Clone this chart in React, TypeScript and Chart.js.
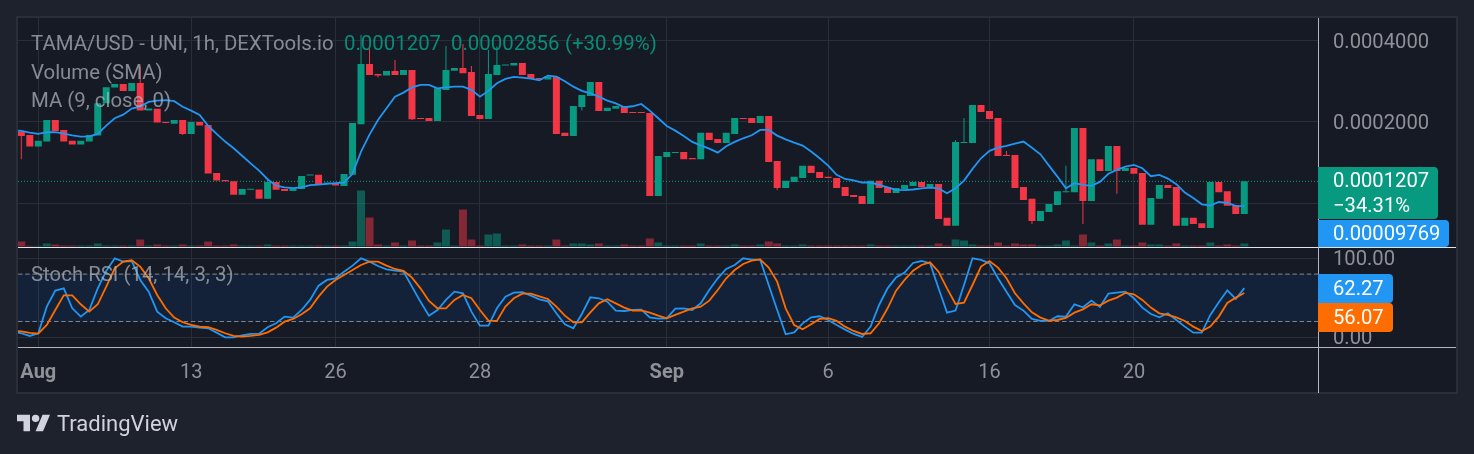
import React, { useEffect, useRef } from "react";
import { Chart, registerables } from "chart.js";

Chart.register(...registerables);

// Prices are in units of 0.0001 USD.
const opens = [
  1.843,1.791,1.622,1.693,2.034,1.869,1.703,1.650,1.693,1.781,
  2.344,2.679,2.765,2.605,2.789,2.203,2.236,2.000,1.972,2.034,
  1.807,2.000,1.950,1.297,1.222,1.208,1.078,1.123,1.126,1.040,
  1.201,1.130,1.113,1.130,1.268,1.276,1.184,1.191,1.161,1.276,
  1.962,3.277,3.011,2.968,3.087,2.985,3.112,2.064,2.070,2.016,
  2.627,3.094,3.165,3.060,2.124,2.052,2.985,3.231,3.231,3.304,
  3.011,2.908,2.868,2.934,1.823,1.775,2.274,2.494,2.812,2.197,
  2.236,2.293,2.178,2.178,2.160,1.065,1.484,1.536,1.550,1.473,
  1.456,1.823,1.729,1.674,1.807,2.070,2.070,1.983,2.106,1.436,
  1.140,1.201,1.243,1.377,1.307,1.254,1.243,1.151,1.075,1.065,
  0.995,1.212,1.151,1.094,1.130,1.161,1.201,1.151,1.181,0.885,
  0.828,1.674,1.674,2.312,2.197,2.070,1.510,1.510,1.151,1.040,
  0.861,0.930,0.987,1.100,1.100,1.900,1.022,1.456,1.319,1.632,
  1.319,1.353,1.297,0.834,1.040,1.171,1.151,0.828,0.885,0.846,
  0.812,1.201,1.110,0.987,0.915,
];
const closes = [
  1.775,1.622,1.703,2.034,1.853,1.693,1.650,1.703,1.791,2.344,
  2.686,2.765,2.605,2.789,2.203,2.242,1.989,1.983,2.034,1.807,
  2.000,1.939,1.290,1.215,1.208,1.078,1.130,1.130,1.040,1.201,
  1.123,1.113,1.138,1.264,1.276,1.181,1.191,1.164,1.286,1.983,
  3.277,2.985,2.968,3.087,2.985,3.112,2.046,2.052,2.016,2.664,
  3.112,3.165,3.027,2.106,2.052,3.011,3.249,3.249,3.304,2.985,
  2.884,2.868,2.942,1.807,1.775,2.293,2.516,2.812,2.197,2.255,
  2.293,2.160,2.160,2.160,1.065,1.498,1.550,1.550,1.456,1.456,
  1.823,1.717,1.674,1.823,2.070,2.052,1.983,2.106,1.423,1.140,
  1.212,1.254,1.377,1.297,1.243,1.243,1.140,1.065,1.056,0.995,
  1.212,1.140,1.094,1.140,1.171,1.201,1.151,1.181,0.877,0.828,
  1.688,1.688,2.312,2.178,2.052,1.498,1.498,1.140,1.030,0.861,
  0.938,0.995,1.110,1.110,1.900,1.022,1.456,1.319,1.632,1.319,
  1.353,1.287,0.834,1.048,1.171,1.140,0.828,0.885,0.839,0.812,
  1.201,1.100,0.980,0.915,1.207,
];
// Candles with a visible wick: the index and the price the wick reaches.
const wickIndex = [0,14,19,29,40,41,42,44,46,50,52,53,55,56,66,89,110,111,116,119,123,125,129];
const wickEnd = [1.456,3.204,1.791,1.229,4.2,3.744,2.917,3.39,2.034,3.82,3.885,3.222,3.69,3.797,2.203,1.120,1.717,2.070,1.564,0.839,1.377,0.839,1.085];

const volumes = [
  5,0.7,0.7,3,2,1,1,1,1,3,1,1,1,1,7,1,2,1,1,2,
  1,1,5,1,1,2,1,1,1,2,1,1,1,1,1,1,1,1,1,5,
  56,29,2,1,4,1,6,1,1,4,17,1,37,7,1,12,13,1,1,2,
  1,1,1,7,1,3,3,2,3,1,1,2,1,1,8,4,1,1,1,1,
  3,1,1,1,2,1,1,2,5,3,1,1,2,1,1,1,1,1,1,1,
  2,1,1,1,1,1,1,1,3,1,7,6,2,1,1,4,1,3,2,2,
  1,1,2,6,1,12,4,1,3,7,1,1,4,2,2,1,3,1,1,1,
  4,1,2,1,3,
];

// MA, %K and %D start one bar before the first visible candle.
const movingAverage = [
  1.869,1.853,1.827,1.807,1.833,1.833,1.812,1.786,1.765,1.770,1.807,
  1.939,2.064,2.128,2.242,2.280,2.372,2.400,2.407,2.386,2.275,
  2.203,2.124,1.934,1.807,1.693,1.600,1.501,1.407,1.323,1.229,
  1.164,1.147,1.140,1.147,1.168,1.174,1.181,1.188,1.195,1.287,
  1.555,1.796,2.034,2.248,2.481,2.568,2.686,2.741,2.741,2.664,
  2.686,2.701,2.701,2.627,2.481,2.605,2.781,2.884,2.934,2.917,
  2.892,2.850,2.968,2.942,2.828,2.701,2.605,2.553,2.481,2.399,
  2.344,2.267,2.286,2.331,2.203,2.064,1.934,1.858,1.775,1.688,
  1.640,1.595,1.541,1.627,1.688,1.741,1.786,1.869,1.869,1.781,
  1.725,1.678,1.636,1.555,1.469,1.380,1.276,1.232,1.218,1.195,
  1.195,1.171,1.147,1.123,1.120,1.126,1.137,1.144,1.137,1.091,
  1.137,1.215,1.342,1.469,1.564,1.609,1.632,1.664,1.693,1.605,
  1.519,1.380,1.257,1.137,1.188,1.171,1.161,1.201,1.287,1.330,
  1.369,1.388,1.349,1.261,1.276,1.236,1.178,1.097,1.048,0.993,
  0.982,1.013,1.004,0.979,0.977,
];
const stochK = [
  7.2,5.1,1.7,5.1,38.8,59.1,62.0,36.7,26.2,34.6,62.0,
  84.0,100,95.8,96.6,72.6,57.8,32.5,24.1,19.0,13.5,
  13.5,12.2,11.4,5.9,0,0,2.5,4.2,4.6,12.7,
  17.7,26.2,24.9,34.6,47.3,65.4,72.6,74.7,83.1,90.7,
  100,95.8,90.3,86.1,84.4,83.1,64.1,45.1,27.4,34.6,
  47.3,57.8,55.7,32.5,14.8,14.8,36.7,51.5,56.5,57.0,
  52.7,48.1,45.6,30.4,16.5,11.4,29.5,50.6,49.4,45.1,
  33.8,33.3,34.6,35.0,25.3,23.6,24.1,36.3,36.7,34.6,
  43.0,59.9,74.7,86.5,91.6,100,98.3,98.3,66.2,34.6,
  3.8,6.3,17.7,25.3,26.6,21.9,15.6,9.7,4.2,0.4,
  13.5,40.9,62.0,75.9,81.9,94.1,96.6,93.7,62.0,31.2,
  33.8,66.2,100,97.9,93.7,74.7,57.8,40.9,33.8,23.2,
  20.7,20.7,26.6,26.2,41.8,38.0,46.4,38.4,55.3,56.5,
  57.8,49.4,37.6,29.5,25.3,30.4,21.9,13.5,5.9,5.9,
  28.3,44.3,59.5,48.5,62.27,
];
const stochD = [
  8.4,7.6,5.5,4.6,15.6,34.6,53.2,53.2,41.8,32.5,41.8,
  64.1,87.3,95.8,97.5,89.5,74.7,53.6,36.7,24.9,19.0,
  15.6,13.5,12.7,9.3,5.1,1.7,0.8,1.7,3.0,6.3,
  12.2,19.8,23.2,29.1,36.7,51.5,64.1,72.6,78.9,85.2,
  91.6,95.8,95.8,90.7,86.5,84.0,75.5,62.0,46.0,36.7,
  36.7,47.3,53.6,49.4,34.6,21.1,20.7,38.8,49.4,55.3,
  55.3,51.9,48.5,38.8,27.4,19.0,19.0,31.6,43.0,48.1,
  43.0,37.6,33.8,34.2,31.2,27.4,24.1,28.3,32.5,36.7,
  38.8,46.4,59.9,74.7,85.2,92.8,97.0,98.7,88.2,70.5,
  36.7,15.6,10.1,16.5,23.2,24.1,20.7,13.5,8.0,4.2,
  5.1,17.7,36.7,59.1,72.6,84.4,91.6,94.9,83.1,62.0,
  42.2,43.9,66.2,89.5,96.6,88.2,74.7,55.7,43.0,31.6,
  24.9,21.1,21.9,24.5,31.2,35.4,41.8,40.5,46.4,50.2,
  56.1,54.4,47.3,37.6,30.4,28.3,25.3,20.7,13.5,8.0,
  13.5,26.2,43.5,50.2,56.07,
];

const lastPrice = 1.207;
const stochBands = [80, 20];
const priceTicks = [4, 2, 1];
const priceLabelled = [4, 2];
const stochTicks = [100, 0];
const dateTickIndex = [2, 20, 37, 54, 76, 95, 114, 131];
const dateTickLabels = ["Aug", "13", "26", "28", "Sep", "6", "16", "20"];
const monthLabels = ["Aug", "Sep"];

const X_MIN = -0.39;
const X_MAX = 152.68;
const GREEN = "#089981";
const RED = "#f23645";
const BLUE = "#2196f3";
const ORANGE = "#ff6d00";
const GRID = "#2a2e39";
const TICK = "#8f9198";
const FONT = "Roboto";

const overlayText: React.CSSProperties = {
  position: "absolute",
  fontFamily: FONT,
  fontSize: 20.4,
  lineHeight: "24px",
  whiteSpace: "pre",
};

function Legend({ x, y, color, text }: { x: number; y: number; color: string; text: string }) {
  return <div style={{ ...overlayText, left: x, top: y - 12, color }}>{text}</div>;
}

function Badge({ top, height, width, color, lines }: { top: number; height: number; width: number; color: string; lines: string[] }) {
  return (
    <div
      style={{
        position: "absolute",
        left: 1318,
        top,
        width,
        height,
        background: color,
        borderRadius: "0 4px 4px 0",
        boxSizing: "border-box",
        paddingLeft: 15,
        display: "flex",
        flexDirection: "column",
        justifyContent: "center",
        color: "#ffffff",
        fontFamily: FONT,
        fontSize: 20.2,
        lineHeight: "25px",
        whiteSpace: "pre",
      }}
    >
      {lines.map((l) => (
        <div key={l}>{l}</div>
      ))}
    </div>
  );
}

function Rule({ left, top, width, height, color }: { left: number; top: number; width: number; height: number; color: string }) {
  return <div style={{ position: "absolute", left, top, width, height, background: color }} />;
}

// Roboto's optical middle sits above the canvas "middle" baseline, so y-axis labels are lowered a little.
const nudgeAxisLabels = {
  id: "nudgeAxisLabels",
  beforeDraw(chart: any) {
    for (const id of ["price", "stoch"]) {
      for (const item of chart.scales[id].getLabelItems()) {
        if (!item.nudged) {
          item.options.translation[1] += 2;
          item.nudged = true;
        }
      }
    }
  },
};

export default function App() {
  const ref = useRef<HTMLCanvasElement | null>(null);

  useEffect(() => {
    if (!ref.current) return;
    const up = (i: number) => closes[i] >= opens[i];
    const candleColor = (i: number) => (up(i) ? GREEN : RED);
    const volumeColor = (i: number) => (up(i) ? "rgba(8,153,129,0.5)" : "rgba(242,54,69,0.5)");
    const fixedWidth = (s: any) => {
      s.width = 138;
      s.paddingTop = 0;
      s.paddingBottom = 0;
    };
    const line = (axis: string, values: number[], color: string, order: number, width = 1.8) => ({
      type: "line",
      yAxisID: axis,
      data: values.map((y, i) => ({ x: i - 1, y })),
      borderColor: color,
      borderWidth: width,
      pointRadius: 0,
      tension: 0,
      fill: false,
      order,
    });
    const hLine = (axis: string, value: number, color: string, dash: number[], order: number, extra: any = {}) => ({
      type: "line",
      yAxisID: axis,
      data: [
        { x: X_MIN, y: value },
        { x: X_MAX, y: value },
      ],
      borderColor: color,
      borderWidth: 1,
      borderDash: dash,
      pointRadius: 0,
      fill: false,
      order,
      ...extra,
    });

    const chart = new Chart(ref.current, {
      type: "bar",
      plugins: [nudgeAxisLabels],
      data: {
        datasets: [
          {
            yAxisID: "volume",
            data: volumes.map((y, x) => ({ x, y })),
            backgroundColor: volumes.map((_, i) => volumeColor(i)),
            barThickness: 8,
            grouped: false,
            inflateAmount: 0,
            order: 9,
          },
          {
            yAxisID: "price",
            data: wickIndex.map((x, k) => ({ x, y: [opens[x], wickEnd[k]] })),
            backgroundColor: wickIndex.map((i) => candleColor(i)),
            barThickness: 1,
            grouped: false,
            inflateAmount: 0,
            order: 7,
          },
          {
            yAxisID: "price",
            data: opens.map((o, x) => ({ x, y: [o, closes[x]] })),
            backgroundColor: opens.map((_, i) => candleColor(i)),
            barThickness: 7,
            minBarLength: 1,
            grouped: false,
            inflateAmount: 0,
            order: 6,
          },
          hLine("price", lastPrice, GREEN, [1, 2], 8),
          line("price", movingAverage, BLUE, 5),
          hLine("stoch", stochBands[0], "#858892", [4.5, 2.7], 4, {
            fill: "+1",
            backgroundColor: "rgba(0,110,230,0.1)",
          }),
          hLine("stoch", stochBands[1], "#858892", [4.5, 2.7], 4),
          line("stoch", stochK, BLUE, 3),
          line("stoch", stochD, ORANGE, 2),
        ] as any,
      },
      options: {
        responsive: false,
        animation: false,
        devicePixelRatio: 1,
        parsing: { xAxisKey: "x", yAxisKey: "y" },
        layout: {
          autoPadding: false,
          padding: { left: 18, top: 18, right: 18, bottom: 61 },
        },
        plugins: {
          legend: { display: false },
          tooltip: { enabled: false },
        },
        scales: {
          x: {
            type: "linear",
            min: X_MIN,
            max: X_MAX,
            offset: false,
            afterBuildTicks: (s: any) => {
              s.ticks = dateTickIndex.map((value) => ({ value }));
            },
            afterFit: (s: any) => {
              s.height = 46;
              s.paddingLeft = 0;
              s.paddingRight = 0;
            },
            ticks: {
              autoSkip: false,
              maxRotation: 0,
              padding: 14,
              color: TICK,
              font: (ctx: any) => ({
                family: FONT,
                size: 20,
                weight: monthLabels.includes(ctx.tick?.label) ? "bold" : "normal",
              }),
              callback: (v: any) => dateTickLabels[dateTickIndex.indexOf(Number(v))] ?? "",
            },
            grid: { color: GRID, offset: false, drawTicks: false },
            border: { display: false },
          },
          price: {
            type: "logarithmic",
            position: "right",
            stack: "right",
            stackWeight: 229.5,
            min: 0.6876,
            max: 4.843,
            bounds: "data",
            afterBuildTicks: (s: any) => {
              s.ticks = priceTicks.map((value) => ({ value }));
            },
            afterFit: fixedWidth,
            ticks: {
              autoSkip: false,
              crossAlign: "near",
              padding: 15,
              color: TICK,
              font: { family: FONT, size: 20.2 },
              callback: (v: any) =>
                priceLabelled.includes(Number(v)) ? (Number(v) * 1e-4).toFixed(7) : "",
            },
            grid: { color: GRID, drawTicks: false },
            border: { display: false },
          },
          stoch: {
            type: "linear",
            position: "right",
            stack: "right",
            stackWeight: 99.5,
            min: -12.3,
            max: 113.7,
            afterBuildTicks: (s: any) => {
              s.ticks = stochTicks.map((value) => ({ value }));
            },
            afterFit: fixedWidth,
            ticks: {
              autoSkip: false,
              crossAlign: "near",
              padding: 15,
              color: TICK,
              font: { family: FONT, size: 20.2 },
              callback: (v: any) => Number(v).toFixed(2),
            },
            grid: { color: GRID, drawTicks: false },
            border: { display: false },
          },
          volume: {
            type: "linear",
            display: false,
            position: "left",
            min: -100.5,
            max: 228.5,
          },
        },
      } as any,
    });
    return () => chart.destroy();
  }, []);

  const legendColor = "rgba(178,181,190,0.72)";
  const valueColor = "rgba(8,153,129,0.9)";

  return (
    <div style={{ position: "fixed", left: 0, top: 0, width: 1474, height: 454, background: "#1e222d", overflow: "hidden" }}>
      <div
        style={{
          position: "absolute",
          left: 16,
          top: 16,
          width: 1442,
          height: 378,
          background: "#161a25",
          border: "2px solid #2a2e39",
          boxSizing: "border-box",
        }}
      />
      <canvas ref={ref} width={1474} height={454} style={{ position: "absolute", left: 0, top: 0, width: 1474, height: 454 }} />

      <Rule left={18} top={246.8} width={1438} height={1.2} color="#e0e3eb" />
      <Rule left={18} top={347} width={1438} height={1} color="#b2b5be" />
      <Rule left={1318} top={18} width={1} height={375} color="#b2b5be" />

      <Legend x={31} y={43} color={legendColor} text="TAMA/USD - UNI, 1h, DEXTools.io" />
      <Legend x={344} y={43} color={valueColor} text="0.0001207" />
      <Legend x={451} y={43} color={valueColor} text="0.00002856" />
      <Legend x={565} y={43} color={valueColor} text="(+30.99%)" />
      <Legend x={31} y={72} color={legendColor} text="Volume (SMA)" />
      <Legend x={31} y={100} color={legendColor} text="MA (9, close, 0)" />
      <Legend x={31} y={274} color={legendColor} text="Stoch RSI (14, 14, 3, 3)" />

      <Badge top={167} height={52} width={120} color={GREEN} lines={["0.0001207", "\u221234.31%"]} />
      <Badge top={220} height={26.5} width={131} color={BLUE} lines={["0.00009769"]} />
      <Badge top={274} height={29} width={75} color={BLUE} lines={["62.27"]} />
      <Badge top={303} height={29} width={75} color={ORANGE} lines={["56.07"]} />

      <svg style={{ position: "absolute", left: 17, top: 414 }} width={33} height={18} viewBox="0 4 35.5 18">
        <path fill="#d1d4dc" d="M14 22H7V11H0V4h14v18zM28 22h-8l7.5-18h8L28 22z" />
        <circle fill="#d1d4dc" cx="20" cy="8" r="4" />
      </svg>
      <div style={{ ...overlayText, left: 57, top: 412, color: "#d1d4dc", fontSize: 22 }}>TradingView</div>
    </div>
  );
}
